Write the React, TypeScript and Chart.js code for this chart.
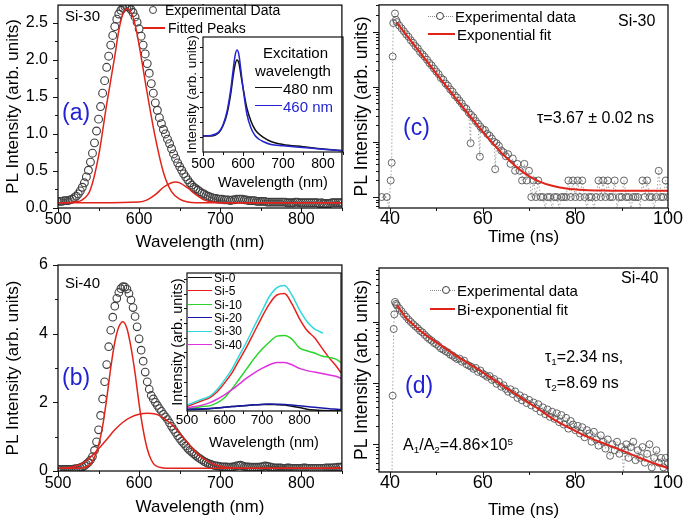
import React, { useEffect, useRef } from 'react';
import { Chart, registerables } from 'chart.js';

Chart.register(...registerables);

const FONT = '"Liberation Sans", Arial, Helvetica, sans-serif';
const RED = '#e2231a';
const LABEL_BLUE = '#2222d4';
const CIRCLE = '#3e3e3e';

// ---------- Panel (a): Si-30 PL spectrum ----------
const aWave = [500,502.5,505,507.5,510,512.5,515,517.5,520,522.5,
  525,527.5,530,532.5,535,537.5,540,542.5,545,547.5,
  550,552.5,555,557.5,560,562.5,565,567.5,570,572.5,
  575,577.5,580,582.5,585,587.5,590,592.5,595,597.5,
  600,602.5,605,607.5,610,612.5,615,617.5,620,622.5,
  625,627.5,630,632.5,635,637.5,640,642.5,645,647.5,
  650,652.5,655,657.5,660,662.5,665,667.5,670,672.5,
  675,677.5,680,682.5,685,687.5,690,692.5,695,697.5,
  700,702.5,705,707.5,710,712.5,715,717.5,720,722.5,
  725,727.5,730,732.5,735,737.5,740,742.5,745,747.5,
  750,752.5,755,757.5,760,762.5,765,767.5,770,772.5,
  775,777.5,780,782.5,785,787.5,790,792.5,795,797.5,
  800,802.5,805,807.5,810,812.5,815,817.5,820,822.5,
  825,827.5,830,832.5,835,837.5,840,842.5,845,847.5,850];
const aExp = [0.09,0.09,0.09,0.10,0.10,0.10,0.11,0.12,0.14,0.16,
  0.19,0.23,0.28,0.34,0.42,0.51,0.62,0.74,0.88,1.04,
  1.20,1.37,1.55,1.72,1.90,2.05,2.20,2.33,2.45,2.55,
  2.62,2.67,2.70,2.72,2.72,2.71,2.68,2.64,2.58,2.51,
  2.42,2.32,2.20,2.08,1.95,1.82,1.68,1.55,1.42,1.32,
  1.22,1.14,1.06,1.00,0.93,0.87,0.80,0.73,0.67,0.61,
  0.56,0.51,0.46,0.42,0.38,0.34,0.31,0.28,0.26,0.24,
  0.22,0.20,0.19,0.17,0.16,0.15,0.14,0.13,0.13,0.12,
  0.12,0.12,0.11,0.11,0.11,0.10,0.11,0.11,0.12,0.12,
  0.12,0.12,0.11,0.11,0.10,0.10,0.10,0.10,0.09,0.09,
  0.09,0.09,0.09,0.08,0.08,0.08,0.08,0.08,0.08,0.08,
  0.08,0.08,0.08,0.07,0.07,0.07,0.07,0.08,0.08,0.07,
  0.07,0.07,0.07,0.07,0.07,0.07,0.07,0.07,0.07,0.06,
  0.07,0.06,0.06,0.06,0.06,0.07,0.07,0.07,0.07,0.07,0.07];
const aPeak1X = [500,510,520,530,540,550,560,570,575,580,585,590,595,600,610,620,630,640,650,660,670,680,700,750,800,850];
const aPeak1Y = [0.07,0.07,0.08,0.11,0.25,0.70,1.40,2.05,2.40,2.62,2.69,2.64,2.48,2.20,1.55,0.95,0.48,0.22,0.12,0.08,0.07,0.07,0.07,0.07,0.07,0.07];
const aPeak2X = [500,550,600,610,620,630,640,645,650,660,670,680,690,700,750,800,850];
const aPeak2Y = [0.07,0.07,0.08,0.11,0.18,0.28,0.34,0.35,0.34,0.27,0.18,0.11,0.08,0.07,0.07,0.07,0.07];
const aXTicks = [500, 600, 700, 800];
const aXMinor = [550, 650, 750, 850];
const aYTicks = [0, 0.5, 1.0, 1.5, 2.0, 2.5];
const aYMinor = [0.25, 0.75, 1.25, 1.75, 2.25];

// inset (a): excitation wavelength
const iaX = [500,520,540,550,560,570,575,580,585,590,595,600,610,620,630,640,650,670,700,750,800,850];
const ia480 = [1.07,1.07,1.30,1.75,2.55,4.00,5.00,5.80,6.13,5.90,5.10,4.30,2.90,2.05,1.50,1.20,1.00,0.70,0.50,0.35,0.20,0.08];
const ia460 = [1.07,1.10,1.35,1.80,2.70,4.30,5.40,6.40,6.80,6.45,5.40,4.30,2.50,1.60,1.10,0.85,0.70,0.50,0.42,0.30,0.18,0.08];
const iaXTicks = [500, 600, 700, 800];
const iaXMinor = [550, 650, 750, 850];
const iaYMinor = [1, 2, 3, 4, 5, 6, 7];

// ---------- Panel (b): Si-40 PL spectrum ----------
const bWave = aWave;
const bExp = [0.05,0.05,0.05,0.05,0.05,0.05,0.05,0.05,0.06,0.07,
  0.08,0.10,0.12,0.15,0.20,0.25,0.32,0.42,0.60,0.85,
  1.20,1.62,2.10,2.60,3.10,3.62,4.10,4.48,4.80,5.03,
  5.20,5.31,5.37,5.36,5.30,5.17,4.98,4.76,4.50,4.20,
  3.85,3.52,3.20,2.88,2.60,2.38,2.20,2.10,2.00,1.91,
  1.82,1.74,1.65,1.58,1.50,1.40,1.30,1.21,1.12,1.03,
  0.95,0.87,0.80,0.73,0.66,0.60,0.55,0.50,0.45,0.40,
  0.36,0.32,0.28,0.25,0.22,0.20,0.18,0.16,0.15,0.14,
  0.13,0.12,0.12,0.12,0.11,0.11,0.12,0.13,0.15,0.16,
  0.17,0.15,0.13,0.12,0.12,0.11,0.11,0.11,0.11,0.11,
  0.12,0.13,0.15,0.14,0.13,0.11,0.10,0.09,0.09,0.09,
  0.09,0.08,0.08,0.09,0.09,0.08,0.08,0.08,0.08,0.08,
  0.08,0.09,0.09,0.08,0.08,0.08,0.08,0.08,0.08,0.08,
  0.08,0.08,0.09,0.09,0.09,0.09,0.10,0.10,0.11,0.11,0.12];
const bPeak1X = [500,520,530,540,545,550,555,560,565,570,575,580,585,590,595,600,605,610,615,620,630,640,700,850];
const bPeak1Y = [0.08,0.08,0.09,0.20,0.40,0.75,1.30,2.10,3.00,3.75,4.20,4.35,4.15,3.60,2.85,1.95,1.20,0.65,0.32,0.16,0.09,0.08,0.08,0.08];
const bPeak2X = [500,510,520,530,540,550,560,570,580,590,600,610,620,630,640,650,660,670,680,690,700,710,720,740,850];
const bPeak2Y = [0.08,0.09,0.13,0.22,0.40,0.65,0.92,1.20,1.42,1.57,1.65,1.68,1.66,1.55,1.36,1.10,0.82,0.55,0.35,0.22,0.14,0.10,0.09,0.08,0.08];
const bYTicks = [0, 2, 4, 6];
const bYMinor = [1, 3, 5];

// inset (b): samples
const ibX = [500,520,540,560,580,600,620,640,660,680,700,720,740,760,780,800,820,840,860,880,900,911];
const ibSi0 = [0.08,0.10,0.12,0.15,0.20,0.25,0.30,0.34,0.38,0.42,0.44,0.45,0.43,0.40,0.33,0.24,0.12,0.06,0.03,0.02,0.02,0.02];
const ibSi5 = [0.30,0.50,0.70,0.90,1.30,1.90,2.60,3.50,4.40,5.40,6.40,7.30,7.90,8.00,7.30,6.30,5.50,5.00,4.30,3.60,3.00,2.60];
const ibSi10 = [0.15,0.20,0.30,0.35,0.55,0.90,1.50,2.20,2.90,3.60,4.20,4.70,5.10,5.15,4.90,4.30,4.10,3.95,3.75,3.65,3.50,3.30];
const ibSi20 = [0.12,0.13,0.15,0.17,0.20,0.25,0.30,0.34,0.38,0.42,0.45,0.47,0.46,0.45,0.41,0.35,0.30,0.25,0.20,0.15,0.12,0.10];
const ibX30 = [500,520,540,560,580,600,620,640,660,680,700,720,740,760,780,800,820,840,855,863];
const ibSi30 = [0.40,0.60,0.80,1.00,1.45,2.10,2.85,3.80,4.75,5.80,6.80,7.80,8.40,8.55,7.90,6.90,6.10,5.60,5.40,5.30];
const ibSi40 = [0.20,0.30,0.40,0.55,0.80,1.10,1.45,1.85,2.25,2.60,2.90,3.15,3.30,3.30,3.15,2.90,2.75,2.65,2.55,2.45,2.35,2.20];
const ibXTicks = [500, 600, 700, 800];
const ibXMinor = [550, 650, 750, 850, 900];
const ibYMinor = [1, 2, 3, 4, 5, 6, 7, 8, 9];

// ---------- Panel (c): Si-30 decay ----------
const cTime = [38.2,39.3,39.8,40.15,40.37,40.58,40.71,41.08,41.3,41.5,
  42,42.5,43,43.5,44,44.5,45,45.5,46,46.5,
  47,47.5,48,48.5,49,49.5,50,50.5,51,51.5,
  52,52.5,53,53.5,54,54.5,55,55.5,56,56.5,
  57,57.4,57.5,58,58.5,59,59.4,59.5,60,60.5,
  61,61.5,62,62.5,62.7,63,63.5,64,64.5,65,
  65.5,66,66.5,67,67.5,68,68.5,69,69.5,70,
  70.5,71,71.5,72,72.5,73,73.5,74,74.5,75,
  75.5,76,76.5,77,77.5,78,78.5,79,79.5,80,
  80.5,81,81.5,82,82.5,83,83.5,84,84.5,85,
  85.5,86,86.5,87,87.5,88,88.5,89,89.5,90,
  90.5,91,91.5,92,92.5,93,93.5,94,94.5,95,
  95.5,96,96.5,97,97.5,98,98.5,99,99.5,100];
const cCounts = [10,10,0,20,42,3550,14400,21500,16500,15000,
  13000,11500,10200,9000,8100,7000,6300,5500,5000,4300,
  3900,3500,3100,2700,2450,2150,1900,1700,1450,1350,
  1150,1050,900,820,700,640,560,500,430,400,
  340,95,310,280,240,215,54,190,170,165,
  140,130,115,100,32,95,85,70,65,55,
  60,40,50,30,40,30,20,40,20,30,
  10,20,10,20,10,10,0,10,10,0,
  10,10,0,10,10,10,20,10,20,10,
  20,10,20,10,0,10,10,0,10,20,
  10,20,10,20,10,10,20,0,10,10,
  20,10,10,0,10,10,10,0,20,10,
  20,10,10,0,10,30,10,10,20,10];
const cFitT = [41.5,43,45,47,50,52,55,57,60,62,64,66,68,70,72,75,78,82,86,90,100];
const cFitY = [14600,10000,6100,3700,1740,1060,505,312,154,98,64,44,31.5,24,19.5,16,14.3,13.4,13.1,13,13];
const tXTicks = [40, 60, 80, 100];
const tXMinor = [50, 70, 90];
const cYMin = 6.33;
const cYMax = 30760;
const cDecades = [10, 100, 1000, 10000];

// ---------- Panel (d): Si-40 decay ----------
const dTime = [37.9,38.6,39.3,40.0,40.45,40.58,40.8,40.93,41.08,41.3,
  41.5,42,42.5,43,43.5,44,44.5,45,45.5,46,
  46.5,47,47.5,48,48.5,49,49.5,50,50.5,51,
  51.5,52,52.5,53,53.5,54,54.5,55,55.5,56,
  56.5,57,57.5,58,58.5,59,59.5,60,60.5,61,
  61.5,62,62.5,63,63.5,64,64.5,65,65.5,66,
  66.5,67,67.5,68,68.5,69,69.5,70,70.5,71,
  71.5,72,72.5,73,73.5,74,74.5,75,75.5,76,
  76.5,77,77.5,78,78.5,79,79.5,80,80.5,81,
  81.5,82,82.5,83,83.5,84,84.5,85,85.5,86,
  86.5,87,87.5,88,88.5,89,89.5,90,90.4,90.7,
  91,91.5,92,92.5,93,93.5,94,94.5,95,95.5,
  96,96.5,97,97.5,98,98.5,99,99.5,100];
const dCounts = [0,0,0,0,0,62,760,1320,2100,1950,
  1850,1650,1480,1320,1200,1080,990,910,840,780,
  710,670,610,560,520,490,450,430,400,365,
  350,330,315,290,280,262,245,250,222,232,
  202,192,185,170,176,152,160,142,135,126,
  130,112,116,97,105,87,92,80,72,79,
  66,73,57,63,52,58,47,53,43,48,
  39,45,34,40,31,37,28,34,26,32,
  23,30,21,27,18,24,21,17,20,15,
  19,13,17,15,11,16,12,9.5,14,11,
  8.5,12,6.5,10,8,11,7,9,0,8,
  10,6,9,11,5.5,8,6,9,5,7,
  10,4.2,6,8,5,6,4.2,6,5];
const dFitT = [41.5,42.5,43.6,45,47.2,50.8,54.4,59.4,63,66.6,69.5,72,75.3,79,82.5,86,89.7,93,96.9,100];
const dFitY = [1860,1450,1120,900,650,420,275,160,105,70,50,38,25.5,18,13.3,10.4,8.1,6.4,4.9,4.1];
const dYMin = 3.53;
const dYMax = 7515;
const dDecades = [10, 100, 1000];

// ---------- helpers ----------
const pts = (xs: number[], ys: number[]) => xs.map((x, i) => ({ x, y: ys[i] }));
const logPts = (xs: number[], ys: number[], floor: number) => xs.map((x, i) => ({ x, y: ys[i] > 0 ? ys[i] : floor, zero: !(ys[i] > 0) }));
const logMinor = (min: number, max: number) => {
  const out: number[] = [];
  for (let e = -1; e <= 5; e++) for (let m = 2; m <= 9; m++) {
    const v = m * Math.pow(10, e);
    if (v > min && v < max) out.push(v);
  }
  return out;
};

const frameTicks = {
  id: 'frameTicks',
  afterDatasetsDraw(chart: any, _a: any, o: any) {
    const { ctx, chartArea: a } = chart;
    const xs = chart.scales.x, ys = chart.scales.y;
    ctx.save();
    ctx.strokeStyle = '#111';
    ctx.lineWidth = o.lw || 1.3;
    ctx.strokeRect(a.left, a.top, a.right - a.left, a.bottom - a.top);
    ctx.lineWidth = 1;
    ctx.beginPath();
    const xt = (vals: number[], len: number) => vals.forEach((v) => {
      const p = Math.round(xs.getPixelForValue(v)) + 0.5;
      ctx.moveTo(p, a.bottom); ctx.lineTo(p, a.bottom + len);
    });
    const yt = (vals: number[], len: number) => vals.forEach((v) => {
      const p = Math.round(ys.getPixelForValue(v)) + 0.5;
      ctx.moveTo(a.left, p); ctx.lineTo(a.left - len, p);
    });
    xt(o.xMajor || [], o.majorLen || 5);
    xt(o.xMinor || [], o.minorLen || 3);
    yt(o.yMajor || [], o.majorLen || 5);
    yt(o.yMinor || [], o.minorLen || 3);
    ctx.stroke();
    ctx.restore();
  },
};

function axisX(o: any) {
  return {
    type: 'linear', position: 'bottom', min: o.min, max: o.max,
    grid: { display: false, drawTicks: false }, border: { display: false },
    afterBuildTicks: (s: any) => { s.ticks = o.labels.map((v: number) => ({ value: v })); },
    afterFit: (s: any) => { s.height = o.size; s.paddingLeft = 0; s.paddingRight = 0; },
    ticks: { display: true, autoSkip: false, maxRotation: 0, minRotation: 0, padding: o.pad, color: '#000', font: { family: FONT, size: o.font }, callback: (v: any) => String(v) },
    title: { display: true, text: o.title, color: '#000', font: { family: FONT, size: o.titleSize }, padding: { top: 0, bottom: o.titlePad } },
  };
}

function axisY(o: any) {
  return {
    type: o.log ? 'logarithmic' : 'linear', position: 'left', min: o.min, max: o.max,
    grid: { display: false, drawTicks: false }, border: { display: false },
    afterBuildTicks: (s: any) => { s.ticks = o.labels.map((v: number) => ({ value: v })); },
    afterFit: (s: any) => { s.width = o.size; s.paddingTop = 0; s.paddingBottom = 0; },
    ticks: { display: !!o.showLabels, autoSkip: false, padding: o.pad || 0, color: '#000', font: { family: FONT, size: o.font || 16 }, callback: o.fmt || ((v: any) => String(v)) },
    title: { display: true, text: o.title, color: '#000', font: { family: FONT, size: o.titleSize }, padding: { top: o.titlePad, bottom: 0 } },
  };
}

function opts(pad: any, x: any, y: any, frame: any) {
  return {
    responsive: false, maintainAspectRatio: false, animation: false, devicePixelRatio: 1,
    events: [],
    layout: { padding: pad },
    plugins: { legend: { display: false }, tooltip: { enabled: false }, frameTicks: frame },
    scales: { x, y },
  };
}

const fitLine = (data: any[], color = RED, width = 1.5) => ({
  data, borderColor: color, borderWidth: width, pointRadius: 0, fill: false,
  cubicInterpolationMode: 'monotone',
});
const circles = (data: any[], r = 3.8) => ({
  data, showLine: false, pointRadius: r, pointBorderWidth: 1.1, pointBorderColor: CIRCLE,
  pointBackgroundColor: 'rgba(0,0,0,0)', pointStyle: 'circle',
});
const decay = (data: any[]) => ({
  data, showLine: true, borderColor: '#8c8c8c', borderWidth: 0.8, borderDash: [1.5, 2],
  pointRadius: (c: any) => (c.raw && c.raw.zero ? 0 : 3.5),
  pointBorderWidth: 0.9, pointBorderColor: '#555', pointBackgroundColor: 'rgba(0,0,0,0)', tension: 0,
});

function cfgA(): any {
  return {
    type: 'line', plugins: [frameTicks],
    data: { datasets: [fitLine(pts(aPeak1X, aPeak1Y)), fitLine(pts(aPeak2X, aPeak2Y)), circles(pts(aWave, aExp), 3.9)] },
    options: opts({ left: 0, right: 2, top: 5, bottom: 0 },
      axisX({ min: 500, max: 850, labels: aXTicks, size: 47, pad: 2, font: 16, title: 'Wavelength (nm)', titleSize: 17, titlePad: 2 }),
      axisY({ min: 0, max: 2.74, labels: aYTicks, size: 58, pad: 10, font: 16, showLabels: true, fmt: (v: number) => v.toFixed(1), title: 'PL Intensity (arb. units)', titleSize: 17, titlePad: 3 }),
      { xMajor: aXTicks, xMinor: aXMinor, yMajor: aYTicks, yMinor: aYMinor }),
  };
}

function cfgIA(): any {
  return {
    type: 'line', plugins: [frameTicks],
    data: { datasets: [fitLine(pts(iaX, ia460), '#2424d0', 1.5), fitLine(pts(iaX, ia480), '#111', 1.5)] },
    options: opts({ left: 0, right: 3, top: 7, bottom: 0 },
      axisX({ min: 500, max: 850, labels: iaXTicks, size: 43, pad: 4, font: 14, title: 'Wavelength (nm)', titleSize: 14.5, titlePad: 3 }),
      axisY({ min: 0, max: 7.67, labels: [], size: 25, title: 'Intensity (arb. units)', titleSize: 13.5, titlePad: 6 }),
      { xMajor: iaXTicks, xMinor: iaXMinor, yMajor: [], yMinor: iaYMinor, majorLen: 4, minorLen: 3, lw: 1.2 }),
  };
}

function cfgB(): any {
  return {
    type: 'line', plugins: [frameTicks],
    data: { datasets: [fitLine(pts(bPeak1X, bPeak1Y)), fitLine(pts(bPeak2X, bPeak2Y)), circles(pts(bWave, bExp))] },
    options: opts({ left: 0, right: 2, top: 10, bottom: 0 },
      axisX({ min: 500, max: 850, labels: aXTicks, size: 51, pad: 3, font: 16, title: 'Wavelength (nm)', titleSize: 17, titlePad: 4 }),
      axisY({ min: 0, max: 6, labels: bYTicks, size: 58, pad: 10, font: 16, showLabels: true, title: 'PL Intensity (arb. units)', titleSize: 17, titlePad: 3 }),
      { xMajor: aXTicks, xMinor: aXMinor, yMajor: bYTicks, yMinor: bYMinor }),
  };
}

function cfgIB(): any {
  const ln = (xs: number[], ys: number[], c: string, order: number) => ({ ...fitLine(pts(xs, ys), c, 1.5), order });
  return {
    type: 'line', plugins: [frameTicks],
    data: { datasets: [
      ln(ibX, ibSi0, '#111', 5), ln(ibX, ibSi5, '#e8201c', 4), ln(ibX, ibSi10, '#2ad42a', 3),
      ln(ibX, ibSi20, '#1818a8', 2), ln(ibX30, ibSi30, '#30d8dc', 1), ln(ibX, ibSi40, '#e030e0', 0),
    ] },
    options: opts({ left: 0, right: 5, top: 7, bottom: 0 },
      axisX({ min: 500, max: 911, labels: ibXTicks, size: 45, pad: 1, font: 13.5, title: 'Wavelength (nm)', titleSize: 14.5, titlePad: 4 }),
      axisY({ min: 0, max: 9.4, labels: [], size: 22, title: 'Intensity (arb. units)', titleSize: 14.5, titlePad: 4 }),
      { xMajor: ibXTicks, xMinor: ibXMinor, yMajor: [], yMinor: ibYMinor, majorLen: 4, minorLen: 3, lw: 1.2 }),
  };
}

function cfgC(): any {
  return {
    type: 'line', plugins: [frameTicks],
    data: { datasets: [fitLine(pts(cFitT, cFitY), RED, 2), decay(logPts(cTime, cCounts, cYMin))] },
    options: opts({ left: 0, right: 17, top: 4, bottom: 0 },
      axisX({ min: 37.63, max: 100, labels: tXTicks, size: 47, pad: 0, font: 18, title: 'Time (ns)', titleSize: 17, titlePad: 7 }),
      axisY({ log: true, min: cYMin, max: cYMax, labels: cDecades, size: 34, title: 'PL Intensity (arb. units)', titleSize: 17.5, titlePad: 7 }),
      { xMajor: tXTicks, xMinor: tXMinor, yMajor: cDecades, yMinor: logMinor(cYMin, cYMax), majorLen: 6, minorLen: 3 }),
  };
}

function cfgD(): any {
  return {
    type: 'line', plugins: [frameTicks],
    data: { datasets: [fitLine(pts(dFitT, dFitY), RED, 2), decay(logPts(dTime, dCounts, dYMin))] },
    options: opts({ left: 0, right: 17, top: 13, bottom: 0 },
      axisX({ min: 37.63, max: 100, labels: tXTicks, size: 50, pad: 0, font: 18, title: 'Time (ns)', titleSize: 17, titlePad: 1 }),
      axisY({ log: true, min: dYMin, max: dYMax, labels: dDecades, size: 34, title: 'PL Intensity (arb. units)', titleSize: 17.5, titlePad: 7 }),
      { xMajor: tXTicks, xMinor: tXMinor, yMajor: dDecades, yMinor: logMinor(dYMin, dYMax), majorLen: 6, minorLen: 3 }),
  };
}

// ---------- text / legend helpers ----------
function T({ x, y, s, c = '#000', children }: any) {
  return (
    <div style={{ position: 'absolute', left: x, top: y, fontSize: s, color: c, fontFamily: FONT, lineHeight: 1, whiteSpace: 'nowrap', transform: 'translateY(-50%)' }}>
      {children}
    </div>
  );
}
function HLine({ x1, x2, y, color, w = 2, dotted = false }: any) {
  return <div style={{ position: 'absolute', left: x1, top: y - w / 2, width: x2 - x1, height: 0, borderTop: `${w}px ${dotted ? 'dotted' : 'solid'} ${color}` }} />;
}
function Circ({ x, y, r = 4 }: any) {
  return <div style={{ position: 'absolute', left: x - r, top: y - r, width: 2 * r, height: 2 * r, border: `1px solid ${CIRCLE}`, borderRadius: '50%', boxSizing: 'border-box', background: '#fff' }} />;
}
const sub = (t: string) => <sub style={{ fontSize: '0.62em', verticalAlign: '-0.3em', lineHeight: 0 }}>{t}</sub>;
const sup = (t: string) => <sup style={{ fontSize: '0.62em', verticalAlign: '0.55em', lineHeight: 0 }}>{t}</sup>;

const ibLegend = [
  { name: 'Si-0', color: '#111' },
  { name: 'Si-5', color: '#e8201c' },
  { name: 'Si-10', color: '#2ad42a' },
  { name: 'Si-20', color: '#1818a8' },
  { name: 'Si-30', color: '#30d8dc' },
  { name: 'Si-40', color: '#e030e0' },
];

export default function App() {
  const rA = useRef<HTMLCanvasElement>(null);
  const rIA = useRef<HTMLCanvasElement>(null);
  const rB = useRef<HTMLCanvasElement>(null);
  const rIB = useRef<HTMLCanvasElement>(null);
  const rC = useRef<HTMLCanvasElement>(null);
  const rD = useRef<HTMLCanvasElement>(null);

  useEffect(() => {
    const list = [
      new Chart(rA.current as any, cfgA()),
      new Chart(rB.current as any, cfgB()),
      new Chart(rC.current as any, cfgC()),
      new Chart(rD.current as any, cfgD()),
      new Chart(rIA.current as any, cfgIA()),
      new Chart(rIB.current as any, cfgIB()),
    ];
    return () => list.forEach((c) => c.destroy());
  }, []);

  const cv = (left: number, top: number, w: number, h: number): any => ({ position: 'absolute', left, top, width: w, height: h });

  return (
    <div style={{ position: 'fixed', left: 0, top: 0, width: 685, height: 522, background: '#fff', overflow: 'hidden' }}>
      <canvas ref={rA} width={347} height={255} style={cv(0, 0, 347, 255)} />
      <canvas ref={rB} width={347} height={267} style={cv(0, 255, 347, 267)} />
      <canvas ref={rC} width={340} height={255} style={cv(345, 0, 340, 255)} />
      <canvas ref={rD} width={340} height={267} style={cv(345, 255, 340, 267)} />
      <canvas ref={rIA} width={168} height={165} style={cv(178, 30, 168, 165)} />
      <canvas ref={rIB} width={181} height={190} style={cv(165, 266, 181, 190)} />

      {/* panel (a) */}
      <Circ x={153} y={10} />
      <T x={165} y={10} s={14}>Experimental Data</T>
      <HLine x1={143} x2={165} y={27.5} color={RED} />
      <T x={168} y={27.5} s={14}>Fitted Peaks</T>
      <T x={65} y={15} s={15}>Si-30</T>
      <T x={62} y={112} s={23} c={LABEL_BLUE}>(a)</T>
      <T x={263} y={52} s={15}>Excitation</T>
      <T x={255} y={70} s={15}>wavelength</T>
      <HLine x1={255} x2={282} y={88} color="#111" w={1.5} />
      <T x={283} y={88} s={15}>480 nm</T>
      <HLine x1={255} x2={282} y={106} color="#2424d0" w={1.5} />
      <T x={283} y={106} s={15} c="#2424d0">460 nm</T>

      {/* panel (b) */}
      <T x={65} y={282} s={15}>Si-40</T>
      <T x={62} y={377} s={23} c={LABEL_BLUE}>(b)</T>
      {ibLegend.map((l, i) => (
        <React.Fragment key={l.name}>
          <HLine x1={188} x2={212} y={277.7 + i * 13.4} color={l.color} w={1.5} />
          <T x={214} y={277.7 + i * 13.4} s={12}>{l.name}</T>
        </React.Fragment>
      ))}

      {/* panel (c) */}
      <HLine x1={428} x2={453} y={16} color="#888" w={1} dotted />
      <Circ x={440} y={16} />
      <T x={455} y={16} s={15}>Experimental data</T>
      <HLine x1={428} x2={455} y={34} color={RED} />
      <T x={457} y={34} s={15}>Exponential fit</T>
      <T x={618} y={21} s={16}>Si-30</T>
      <T x={537} y={118} s={16}>τ=3.67 ± 0.02 ns</T>
      <T x={403} y={127} s={23} c={LABEL_BLUE}>(c)</T>

      {/* panel (d) */}
      <HLine x1={430} x2={455} y={290} color="#888" w={1} dotted />
      <Circ x={446} y={290} />
      <T x={457} y={290} s={15}>Experimental data</T>
      <HLine x1={430} x2={455} y={309} color={RED} />
      <T x={457} y={309} s={15}>Bi-exponential fit</T>
      <T x={621} y={278} s={16}>Si-40</T>
      <T x={545} y={357} s={16}>τ{sub('1')}=2.34 ns,</T>
      <T x={545} y={383} s={16}>τ{sub('2')}=8.69 ns</T>
      <T x={405} y={385} s={23} c={LABEL_BLUE}>(d)</T>
      <T x={403} y={445} s={16}>A{sub('1')}/A{sub('2')}=4.86×10{sup('5')}</T>
    </div>
  );
}
